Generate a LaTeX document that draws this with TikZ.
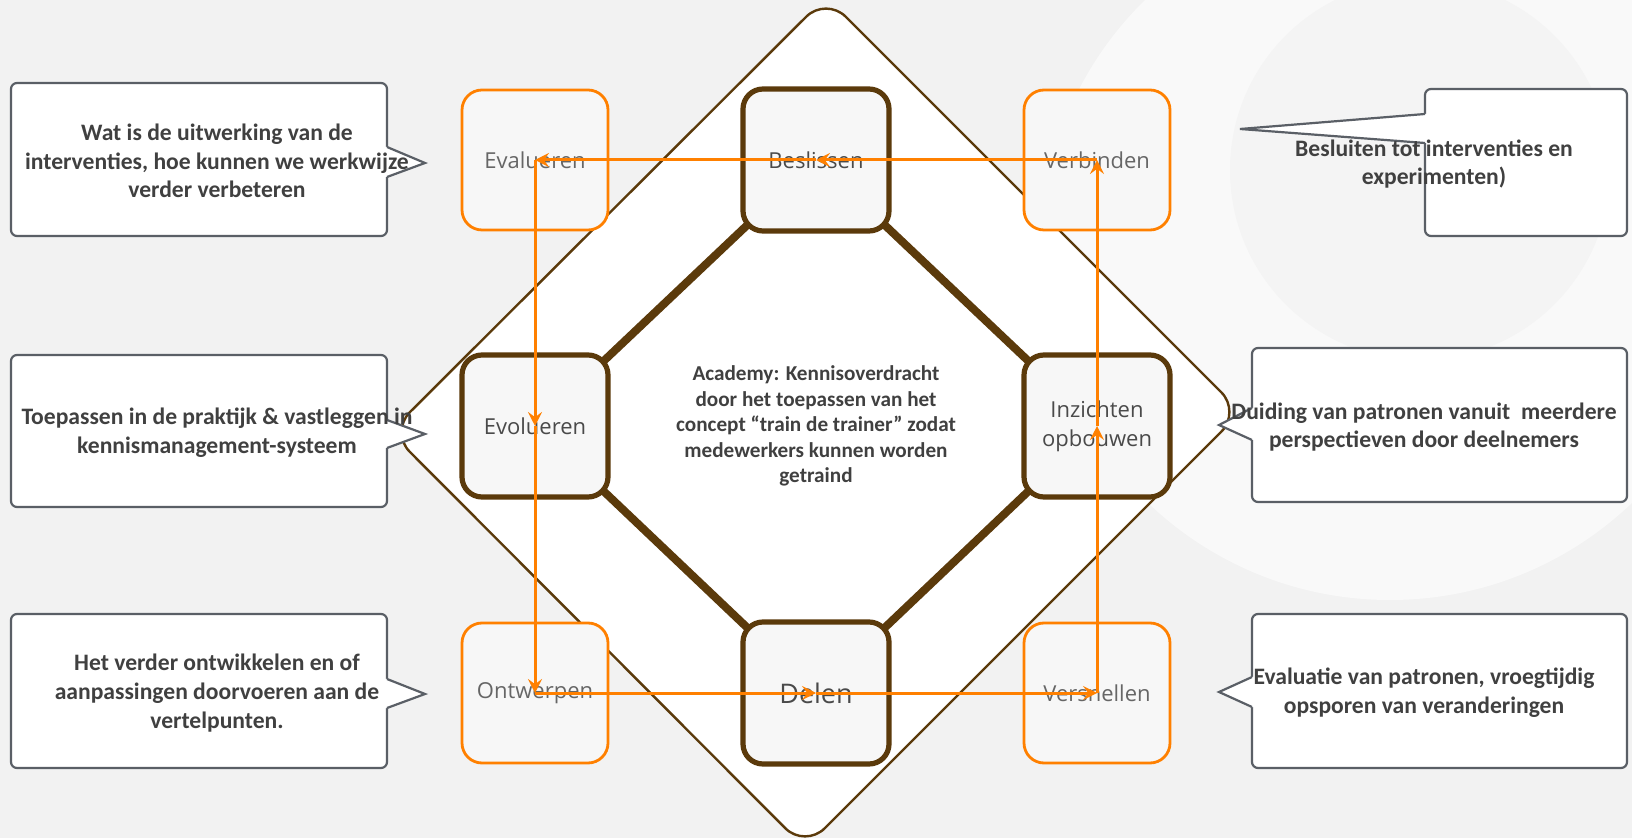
\documentclass[tikz,border=0pt]{standalone}
\usepackage{fontspec}
\setmainfont{Carlito}
\newfontfamily\labelfont{Open Sans}
\usetikzlibrary{arrows.meta,calc}
\definecolor{bgc}{HTML}{F2F2F2}
\definecolor{brownc}{HTML}{5B3A0B}
\definecolor{orangec}{HTML}{FF8000}
\definecolor{cgrey}{HTML}{5A5F66}
\definecolor{txtc}{HTML}{404040}
\definecolor{ltxt}{HTML}{666666}
\definecolor{dtxt}{HTML}{4A4A4A}
\definecolor{boxfill}{HTML}{F7F7F7}
\pgfdeclarelayer{bg}
\pgfdeclarelayer{mid}
\pgfsetlayers{bg,mid,main}
\begin{document}
\begin{tikzpicture}[x=0.5pt,y=-0.5pt,
  obox/.style={draw=orangec,line width=1.4pt,fill=boxfill,rounded corners=10pt,
    minimum width=73pt,minimum height=70pt,inner sep=0pt,text=ltxt,
    font=\labelfont\fontsize{11}{14.5}\selectfont,align=center},
  bbox/.style={draw=brownc,line width=2.6pt,fill=boxfill,rounded corners=10pt,
    minimum width=73pt,minimum height=71pt,inner sep=0pt,text=dtxt,
    font=\labelfont\fontsize{11}{14.5}\selectfont,align=center},
  octo/.style={draw=brownc,line width=4pt},
  diam/.style={draw=brownc,fill=white,line width=1.2pt,rounded corners=14pt},
  flow/.style={draw=orangec,line width=1.5pt,-{Stealth[length=7pt,width=7pt,inset=2.6pt]}},
  cbox/.style={draw=cgrey,fill=white,line width=1.1pt,rounded corners=3pt,inner sep=0pt},
  cline/.style={draw=cgrey,line width=1.1pt,line join=miter},
  ctext/.style={text=txtc,align=center,inner sep=0pt,font=\fontsize{11.8}{14.3}\selectfont\bfseries},
  mtext/.style={text=txtc,align=center,inner sep=0pt,font=\fontsize{10.6}{12.8}\selectfont\bfseries}
]
\useasboundingbox (0,0) rectangle (1632,838);
\begin{pgfonlayer}{bg}
  \fill[bgc] (0,0) rectangle (1632,838);
  \begin{scope}
    \clip (0,0) rectangle (1632,838);
    \fill[white,opacity=0.55] (1390,250) circle[radius=350];
    \fill[bgc,opacity=0.7] (1420,170) circle[radius=190];
  \end{scope}
  \draw[diam] (826,-3) -- (1241,412) -- (805,848) -- (390,432) -- cycle;
\end{pgfonlayer}

% cycle boxes
\node[obox] (evalueren) at (535,160) {Evalueren};
\node[bbox] (beslissen) at (816,160) {Beslissen};
\node[obox] (verbinden) at (1097,160) {Verbinden};
\node[bbox] (evolueren) at (535,426) {Evolueren};
\node[bbox] (inzichten) at (1097,426) {Inzichten\\opbouwen};
\node[obox] (ontwerpen) at (535,693) {Ontwerpen};
\node[bbox,font=\labelfont\fontsize{13.5}{16}\selectfont] (delen) at (816,693) {Delen};
\node[obox] (versnellen) at (1097,693) {Versnellen};

\begin{pgfonlayer}{mid}
  \draw[octo] (beslissen.center) -- (evolueren.center) -- (delen.center) -- (inzichten.center) -- cycle;
\end{pgfonlayer}

\node[mtext] (academy) at (816,426) {Academy: Kennisoverdracht\\door het toepassen van het\\concept “train de trainer” zodat\\medewerkers kunnen worden\\getraind};

% flow arrows
\draw[flow] (evalueren.center) -- (evolueren.center);
\draw[flow] (evolueren.center) -- (ontwerpen.center);
\draw[flow] (ontwerpen.center) -- (delen.center);
\draw[flow] (delen.center) -- (versnellen.center);
\draw[flow] (versnellen.center) -- (inzichten.center);
\draw[flow] (inzichten.center) -- (verbinden.center);
\draw[flow] (verbinden.center) -- (beslissen.center);
\draw[flow] (beslissen.center) -- (evalueren.center);

% callouts left
\node[cbox,minimum width=188pt,minimum height=76.5pt] (cb1) at (199,159.5) {};
\coordinate (t1) at (425,163);
\fill[white] (380,147) -- (387,147) -- (t1) -- (387,177) -- (380,177) -- cycle;
\draw[cline] (387,147) -- (t1) -- (387,177);
\node[ctext] (c1) at (217,161) {Wat is de uitwerking van de\\interventies, hoe kunnen we werkwijze\\verder verbeteren};

\node[cbox,minimum width=188pt,minimum height=76pt] (cb2) at (199,431) {};
\coordinate (t2) at (425,434);
\fill[white] (380,420) -- (387,420) -- (t2) -- (387,448) -- (380,448) -- cycle;
\draw[cline] (387,420) -- (t2) -- (387,448);
\node[ctext] (c2) at (217,433) {Toepassen in de praktijk \& vastleggen in\\kennismanagement-systeem};

\node[cbox,minimum width=188pt,minimum height=77pt] (cb3) at (199,691) {};
\coordinate (t3) at (425,694);
\fill[white] (380,679) -- (387,679) -- (t3) -- (387,708) -- (380,708) -- cycle;
\draw[cline] (387,679) -- (t3) -- (387,708);
\node[ctext] (c3) at (217,693) {Het verder ontwikkelen en of\\aanpassingen doorvoeren aan de\\vertelpunten.};

% callouts right
\node[cbox,minimum width=101pt,minimum height=73.5pt] (cb4) at (1526,162.5) {};
\coordinate (t4) at (1240,129);
\fill[white] (1432,114) -- (1425,114) -- (t4) -- (1425,143) -- (1432,143) -- cycle;
\draw[cline] (1425,114) -- (t4) -- (1425,143);
\node[ctext] (c4) at (1434,164) {Besluiten tot interventies en\\experimenten)};

\node[cbox,minimum width=187.5pt,minimum height=77pt] (cb5) at (1439.5,425) {};
\coordinate (t5) at (1219,425);
\fill[white] (1259,408) -- (1252,408) -- (t5) -- (1252,440) -- (1259,440) -- cycle;
\draw[cline] (1252,408) -- (t5) -- (1252,440);
\node[ctext] (c5) at (1424,427) {Duiding van patronen vanuit\ \ meerdere\\perspectieven door deelnemers};

\node[cbox,minimum width=187.5pt,minimum height=77pt] (cb6) at (1439.5,691) {};
\coordinate (t6) at (1219,692);
\fill[white] (1259,677) -- (1252,677) -- (t6) -- (1252,707) -- (1259,707) -- cycle;
\draw[cline] (1252,677) -- (t6) -- (1252,707);
\node[ctext] (c6) at (1424,693) {Evaluatie van patronen, vroegtijdig\\opsporen van veranderingen};
\end{tikzpicture}
\end{document}
